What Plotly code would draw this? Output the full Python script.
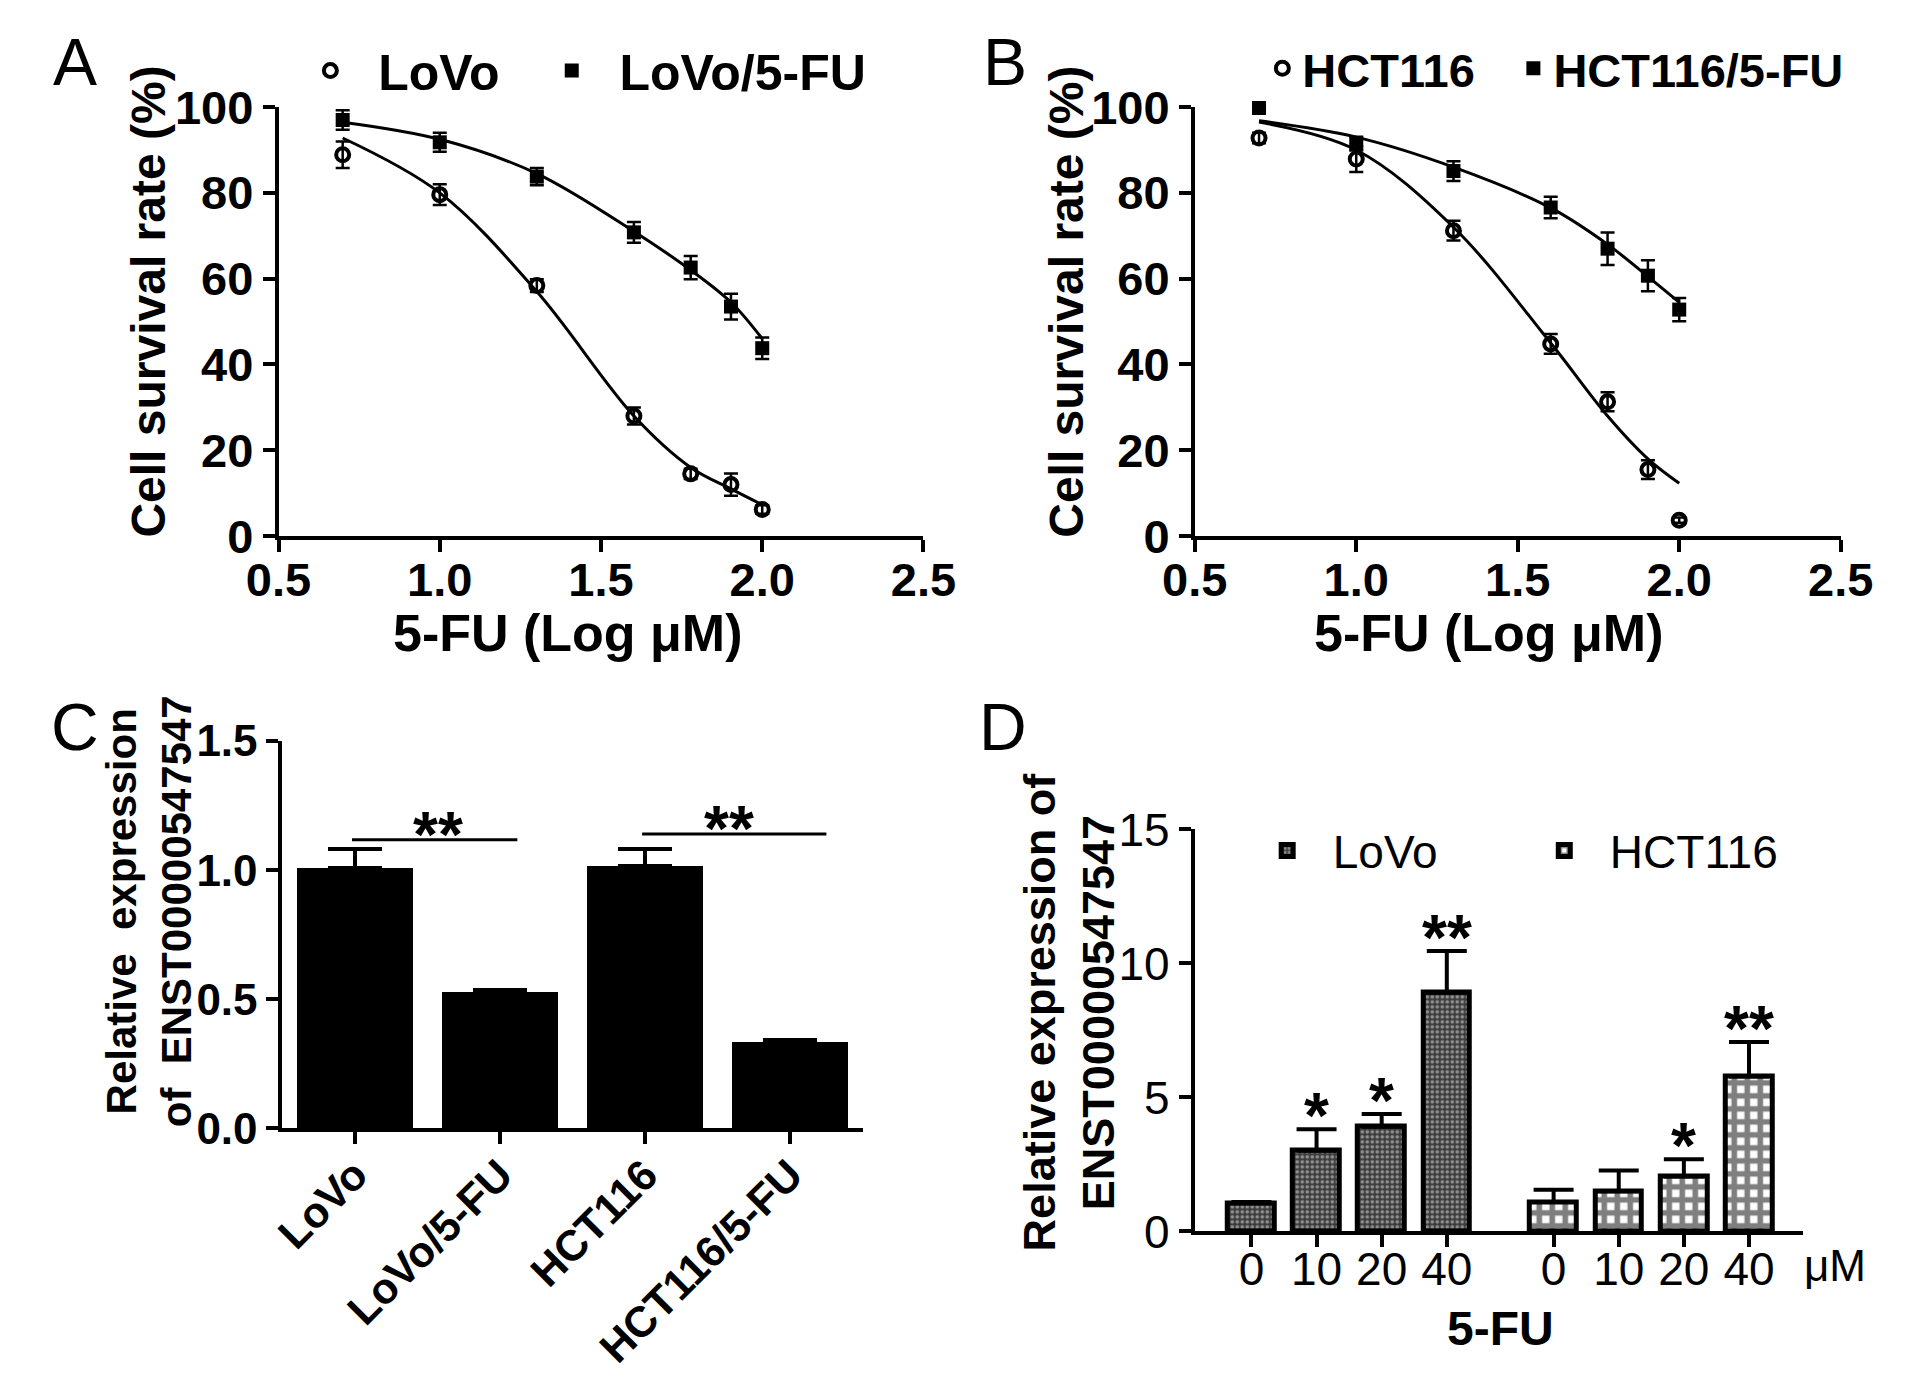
import numpy as np
import plotly.graph_objects as go

W, H = 1913, 1385
FONT = "Liberation Sans, Arial, sans-serif"

# ---- panels A / B: dose response (5-FU, uM)
dose_um = [5, 10, 20, 40, 60, 80, 100]

lovo = [88.9, 79.6, 58.4, 28.0, 14.5, 12.0, 6.2]
lovo_sd = [3.1, 2.4, 1.5, 2.0, 1.2, 2.6, 1.0]
lovo_fit = [92.8, 80.0, 57.0, 28.0, 16.0, 11.0, 7.3]
lovo_r = [97.0, 91.8, 83.8, 70.8, 62.6, 53.5, 43.8]
lovo_r_sd = [2.3, 2.2, 2.0, 2.4, 2.7, 3.0, 2.5]
lovo_r_fit = [96.5, 92.5, 84.5, 71.0, 62.0, 54.5, 46.0]

hct = [92.8, 87.9, 71.2, 44.8, 31.3, 15.5, 3.7]
hct_sd = [1.2, 3.0, 2.3, 2.3, 2.2, 2.2, 0.6]
hct_fit = [96.5, 90.0, 72.0, 45.0, 28.0, 18.0, 12.3]
hct_r = [99.8, 91.5, 85.1, 76.6, 67.0, 60.7, 52.8]
hct_r_sd = [0.8, 1.6, 2.3, 2.5, 3.8, 3.6, 2.7]
hct_r_fit = [96.8, 93.0, 86.0, 76.5, 68.0, 60.5, 54.5]

# ---- panel C
cell_lines = ["LoVo", "LoVo/5-FU", "HCT116", "HCT116/5-FU"]
rel_expr = [1.01, 0.53, 1.015, 0.335]
rel_sd = [0.07, 0.005, 0.065, 0.008]

# ---- panel D
conc = ["0", "10", "20", "40"]
lovo_d = [1.05, 3.01, 3.9, 8.9]
lovo_d_sd = [0.05, 0.8, 0.48, 1.56]
lovo_d_sig = ["", "*", "*", "**"]
hct_d = [1.1, 1.5, 2.05, 5.78]
hct_d_sd = [0.45, 0.77, 0.64, 1.29]
hct_d_sig = ["", "", "*", "**"]

logx = np.log10(dose_um)
NB = "\u00a0"


def font(size, bold=False):
    return dict(family=FONT, size=size, color="black", weight="bold" if bold else "normal")


def axis(dom, anchor, **kw):
    d = dict(domain=dom, anchor=anchor, showline=True, linecolor="black", linewidth=3.5,
             ticks="outside", ticklen=12, tickwidth=3.5, tickcolor="black",
             showgrid=False, zeroline=False, fixedrange=True)
    d.update(kw)
    return d


def xd(a, b):
    return [a / W, b / W]


def yd(top, bottom):
    return [1 - bottom / H, 1 - top / H]


def one_legend(x, y, size, bold=False):
    # single-entry legend placed by its symbol centre (px)
    return dict(orientation="h", x=(x - 20) / W, y=1 - y / H, xanchor="left", yanchor="middle",
                itemwidth=30, font=font(size, bold), bgcolor="rgba(0,0,0,0)")


fig = go.Figure()

# dose response panels
panels = [
    ("x", "y", ("legend", "legend2"), lovo, lovo_sd, lovo_fit, lovo_r, lovo_r_sd, lovo_r_fit,
     NB * 2 + "LoVo", NB * 2 + "LoVo/5-FU"),
    ("x2", "y2", ("legend3", "legend4"), hct, hct_sd, hct_fit, hct_r, hct_r_sd, hct_r_fit,
     "HCT116", "HCT116/5-FU"),
]
for xa, ya, lg, s1, e1, f1, s2, e2, f2, n1, n2 in panels:
    for fit in (f1, f2):
        fig.add_trace(go.Scatter(x=logx, y=fit, mode="lines", xaxis=xa, yaxis=ya,
                                 line=dict(color="black", width=3, shape="spline"),
                                 showlegend=False, cliponaxis=False))
    fig.add_trace(go.Scatter(x=logx, y=s1, mode="markers", name=n1, xaxis=xa, yaxis=ya, legend=lg[0],
                             marker=dict(symbol="circle-open", size=13, color="black",
                                         line=dict(width=4, color="black")),
                             error_y=dict(type="data", array=e1, color="black", thickness=2.5, width=7),
                             cliponaxis=False))
    fig.add_trace(go.Scatter(x=logx, y=s2, mode="markers", name=n2, xaxis=xa, yaxis=ya, legend=lg[1],
                             marker=dict(symbol="square", size=14, color="black"),
                             error_y=dict(type="data", array=e2, color="black", thickness=2.5, width=7),
                             cliponaxis=False))

# panel C
fig.add_trace(go.Bar(x=cell_lines, y=rel_expr, xaxis="x3", yaxis="y3", width=0.8,
                     marker=dict(color="black", line=dict(width=0)), showlegend=False,
                     error_y=dict(type="data", array=rel_sd, arrayminus=[0] * 4, symmetric=False,
                                  color="black", thickness=4, width=27)))

# panel D
pos_lovo = [i for i in range(len(conc))]
pos_hct = [i + 4.64 for i in range(len(conc))]
fig.add_trace(go.Bar(x=pos_lovo, y=lovo_d, name=NB * 2 + "LoVo", xaxis="x4", yaxis="y4", width=0.72,
                     legend="legend5",
                     marker=dict(color="#707070", line=dict(width=5, color="black"),
                                 pattern=dict(shape=".", size=5, solidity=0.4,
                                              fgcolor="#e8e8e8", bgcolor="#3c3c3c")),
                     error_y=dict(type="data", array=lovo_d_sd, arrayminus=[0] * 4, symmetric=False,
                                  color="black", thickness=4, width=20)))
fig.add_trace(go.Bar(x=pos_hct, y=hct_d, name=NB * 2 + "HCT116", xaxis="x4", yaxis="y4", width=0.72,
                     legend="legend6",
                     marker=dict(color="white", line=dict(width=5, color="black"),
                                 pattern=dict(shape="+", size=13, solidity=0.68,
                                              fgcolor="black", bgcolor="white")),
                     error_y=dict(type="data", array=hct_d_sd, arrayminus=[0] * 4, symmetric=False,
                                  color="black", thickness=4, width=20)))

annotations = []
for xs, vals, sds, marks in ((pos_lovo, lovo_d, lovo_d_sd, lovo_d_sig), (pos_hct, hct_d, hct_d_sd, hct_d_sig)):
    for xv, v, s, m in zip(xs, vals, sds, marks):
        if m:
            annotations.append(dict(x=xv, y=v + s, xref="x4", yref="y4", text=m, showarrow=False,
                                    yanchor="bottom", yshift=-25, font=font(64, True)))

# significance brackets in C
shapes = []
for x0, x1, yl, xt in ((-0.02, 1.12, 1.117, 0.57), (1.98, 3.25, 1.14, 2.58)):
    shapes.append(dict(type="line", xref="x3", yref="y3", x0=x0, x1=x1, y0=yl, y1=yl,
                       line=dict(color="black", width=3)))
    annotations.append(dict(x=xt, y=yl + 0.045, xref="x3", yref="y3", text="**", showarrow=False,
                            yanchor="middle", yshift=-7, font=font(64, True)))


# panel letters and axis titles
def paper_text(x, y, text, size, bold=False, angle=0):
    annotations.append(dict(x=x / W, y=1 - y / H, xref="paper", yref="paper", text=text,
                            showarrow=False, xanchor="center", yanchor="middle",
                            textangle=angle, font=font(size, bold)))


paper_text(35, 28, "A", 66)
paper_text(998, 28, "B", 66)
paper_text(35, 720, "C", 66)
paper_text(996, 720, "D", 66)

paper_text(111, 277, "Cell survival rate (%)", 48, True, -90)
paper_text(1062, 277, "Cell survival rate (%)", 48, True, -90)
paper_text(546, 622, "5-FU (Log μM)", 52, True)
paper_text(1500, 622, "5-FU (Log μM)", 52, True)
paper_text(112, 911, "Relative" + NB * 2 + "expression<br>of" + NB * 2 + "ENST00000547547", 42, True, -90)
paper_text(1065, 1016, "Relative expression of<br>ENST00000547547", 45, True, -90)
paper_text(1858, 1279, "μM", 44)
paper_text(1512, 1345, "5-FU", 48, True)

tick_b = font(47, True)
tick_r = font(46)

fig.update_layout(
    width=W, height=H, margin=dict(l=0, r=0, t=0, b=0),
    paper_bgcolor="white", plot_bgcolor="white",
    showlegend=True, bargap=0,
    xaxis=axis(xd(246, 914), "y", range=[0.5, 2.5], dtick=0.5, tick0=0.5, tickformat=".1f",
               tickfont=tick_b, ticklabelstandoff=-12),
    yaxis=axis(yd(75, 521), "x", range=[0, 100], dtick=20, tickfont=tick_b),
    xaxis2=axis(xd(1195, 1864), "y2", range=[0.5, 2.5], dtick=0.5, tick0=0.5, tickformat=".1f",
                tickfont=tick_b, ticklabelstandoff=-12),
    yaxis2=axis(yd(75, 521), "x2", range=[0, 100], dtick=20, tickfont=tick_b),
    xaxis3=axis(xd(250, 851), "y3", type="category", range=[-0.5, 3.5], tickangle=-45,
                linewidth=4, tickwidth=4, tickfont=font(43, True), ticklabelstandoff=-12),
    yaxis3=axis(yd(734, 1137), "x3", range=[0, 1.5], dtick=0.5, tickformat=".1f",
                linewidth=4, tickwidth=4, tickfont=font(44, True)),
    xaxis4=axis(xd(1195, 1825), "y4", range=[-0.87, 8.47], tickmode="array",
                tickvals=pos_lovo + pos_hct, ticktext=conc + conc, linewidth=4, tickwidth=4,
                tickfont=tick_r, ticklabelstandoff=-18),
    yaxis4=axis(yd(826, 1244), "x4", range=[0, 15], dtick=5, linewidth=4, tickwidth=4, tickfont=tick_r),
    legend=one_legend(299, 37, 50, True),
    legend2=one_legend(549, 37, 50, True),
    legend3=one_legend(1285, 35, 47, True),
    legend4=one_legend(1545, 35, 47, True),
    legend5=one_legend(1290, 848, 46),
    legend6=one_legend(1577, 848, 46),
    annotations=annotations,
    shapes=shapes,
)

fig.write_html("out.html")
